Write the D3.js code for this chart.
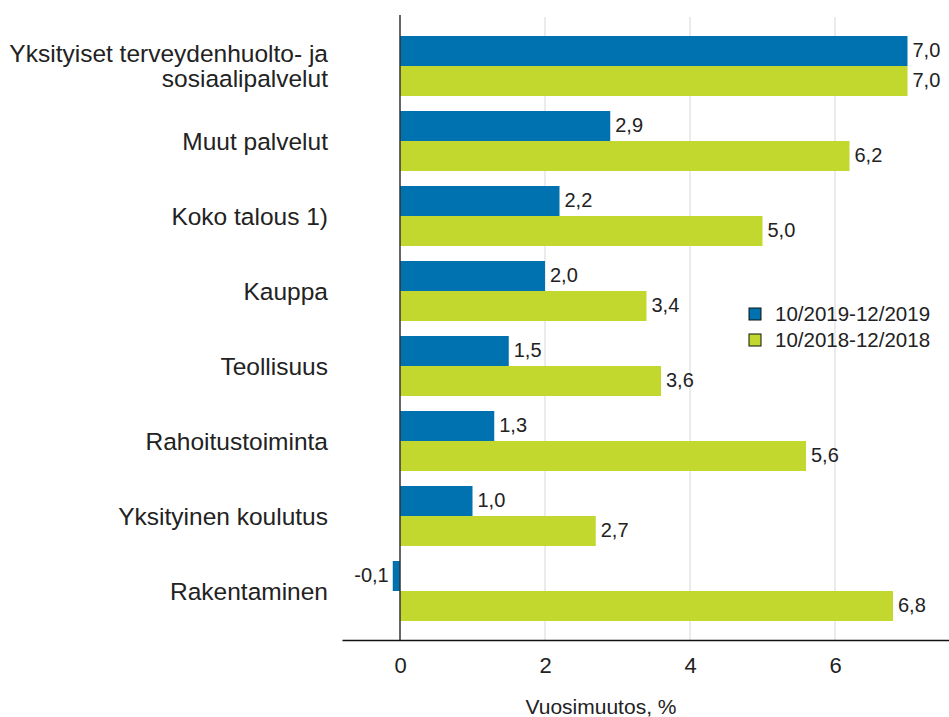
<!DOCTYPE html>
<html>
<head>
<meta charset="utf-8">
<script src="https://cdn.jsdelivr.net/npm/d3@7"></script>
<style>
  body { margin: 0; background: #fff; }
  text { font-family: "Liberation Sans", Arial, sans-serif; fill: #222; }
</style>
</head>
<body>
<svg id="chart" width="949" height="717"></svg>
<script>
// categories (top to bottom)
var categories = [
  ['Yksityiset terveydenhuolto- ja', 'sosiaalipalvelut'],
  ['Muut palvelut'],
  ['Koko talous 1)'],
  ['Kauppa'],
  ['Teollisuus'],
  ['Rahoitustoiminta'],
  ['Yksityinen koulutus'],
  ['Rakentaminen']
];
var series = ['10/2019-12/2019', '10/2018-12/2018'];
var values2019 = [7.0, 2.9, 2.2, 2.0, 1.5, 1.3, 1.0, -0.1];
var values2018 = [7.0, 6.2, 5.0, 3.4, 3.6, 5.6, 2.7, 6.8];
var xTicks = [0, 2, 4, 6];
var colors = ['#0072b0', '#c2d82f'];

var svg = d3.select('#chart');

// x – value scale
var x = d3.scaleLinear().domain([-0.8, 7.6]).range([342, 951]);

// y – category scale
var y = d3.scaleBand()
    .domain(d3.range(categories.length))
    .range([28.5, 628.5])
    .paddingInner(0.2)
    .paddingOuter(0.1);

var ySub = d3.scaleBand().domain([0, 1]).range([0, y.bandwidth()]);

// grid lines
svg.append('g').selectAll('line')
    .data(xTicks.filter(function(d){ return d !== 0; }))
    .enter().append('line')
    .attr('x1', function(d){ return x(d); })
    .attr('x2', function(d){ return x(d); })
    .attr('y1', 17).attr('y2', 640)
    .attr('stroke', '#e4e4e4').attr('stroke-width', 1.5);

var fmt = function(v){ return d3.format('.1f')(v).replace('.', ',').replace('−', '-'); };

var groups = svg.append('g').selectAll('g.cat')
    .data(categories.map(function(c, i){ return { name: c, vals: [values2019[i], values2018[i]] }; }))
    .enter().append('g')
    .attr('class', 'cat')
    .attr('transform', function(d, i){ return 'translate(0,' + y(i) + ')'; });

groups.selectAll('rect')
    .data(function(d){ return d.vals; })
    .enter().append('rect')
    .attr('x', function(v){ return x(Math.min(0, v)); })
    .attr('width', function(v){ return Math.abs(x(v) - x(0)); })
    .attr('y', function(v, j){ return ySub(j); })
    .attr('height', ySub.bandwidth())
    .attr('fill', function(v, j){ return colors[j]; });

groups.selectAll('text.val')
    .data(function(d){ return d.vals; })
    .enter().append('text')
    .attr('class', 'val')
    .attr('x', function(v){ return v < 0 ? x(v) - 4 : x(v) + 5; })
    .attr('y', function(v, j){ return ySub(j) + ySub.bandwidth() / 2 - 1; })
    .attr('dy', '0.35em')
    .attr('text-anchor', function(v){ return v < 0 ? 'end' : 'start'; })
    .style('font-size', '20px')
    .text(fmt);

// category labels
groups.append('text')
    .attr('text-anchor', 'end')
    .style('font-size', '24.5px')
    .attr('transform', function(d){
      var off = (d.name.length - 1) * 12.5;
      return 'translate(328,' + (y.bandwidth() / 2 - off) + ')';
    })
    .selectAll('tspan')
    .data(function(d){ return d.name; })
    .enter().append('tspan')
    .attr('x', 0)
    .attr('dy', function(t, k){ return k === 0 ? '0.35em' : '25px'; })
    .text(function(t){ return t; });

// zero line
svg.append('line')
    .attr('x1', x(0)).attr('x2', x(0))
    .attr('y1', 15).attr('y2', 640)
    .attr('stroke', '#333').attr('stroke-width', 1.5);

// x axis
var xAxis = d3.axisBottom(x).tickValues(xTicks).tickSize(0).tickPadding(17);
var ax = svg.append('g')
    .attr('transform', 'translate(0,640)')
    .call(xAxis);
ax.select('.domain').attr('stroke', '#111').attr('stroke-width', 1.5);
ax.selectAll('text').style('font-size', '22px').style('font-family', '"Liberation Sans", Arial, sans-serif').attr('fill', '#222');

svg.append('text')
    .attr('x', 601).attr('y', 714)
    .attr('text-anchor', 'middle')
    .style('font-size', '21px')
    .text('Vuosimuutos, %');

// legend
var legend = svg.append('g').selectAll('g')
    .data(series)
    .enter().append('g')
    .attr('transform', function(d, i){ return 'translate(749,' + (308 + i * 26) + ')'; });
legend.append('rect')
    .attr('width', 12).attr('height', 12)
    .attr('fill', function(d, i){ return colors[i]; })
    .attr('stroke', '#111').attr('stroke-width', 1);
legend.append('text')
    .attr('x', 26).attr('y', 6).attr('dy', '0.35em')
    .style('font-size', '20.5px')
    .text(function(d){ return d; });
</script>
</body>
</html>
